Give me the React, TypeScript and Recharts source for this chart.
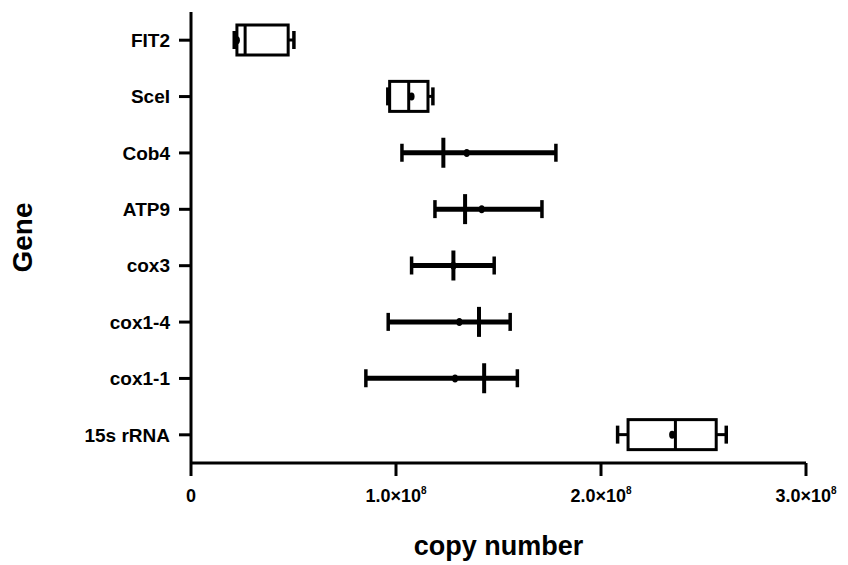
import React from 'react';
import { ComposedChart, Bar, Line, XAxis, YAxis } from 'recharts';

const genes = ['FIT2', 'SceI', 'Cob4', 'ATP9', 'cox3', 'cox1-4', 'cox1-1', '15s rRNA'];
// copy number, in units of 1e8
const mins = [0.211, 0.96, 1.029, 1.19, 1.076, 0.962, 0.853, 2.081];
const q1s = [0.224, 0.969, null, null, null, null, null, 2.132];
const medians = [0.264, 1.062, 1.231, 1.337, 1.28, 1.405, 1.43, 2.363];
const q3s = [0.474, 1.156, null, null, null, null, null, 2.562];
const maxs = [0.502, 1.18, 1.78, 1.712, 1.479, 1.557, 1.592, 2.611];
const means = [0.224, 1.076, 1.345, 1.418, 1.28, 1.309, 1.288, 2.347];
const xTicks = [0, 1, 2, 3];

const E8 = 1e8;
const data = genes.map((gene, i) => ({
  gene,
  min: mins[i] * E8,
  q1: q1s[i] == null ? null : (q1s[i] as number) * E8,
  median: medians[i] * E8,
  q3: q3s[i] == null ? null : (q3s[i] as number) * E8,
  max: maxs[i] * E8,
  mean: means[i] * E8,
}));

const FONT = '"Liberation Sans", Arial, sans-serif';

function BoxShape(props: any) {
  const { x, y, width, height, payload } = props;
  const { min, max, q1, q3, median } = payload;
  const sx = (v: number) => x + ((v - min) / (max - min)) * width;
  const cy = y + height / 2;
  const hasBox = q1 != null && q3 != null;
  const lineW = hasBox ? 3 : 5;
  return (
    <g stroke="#000" fill="none">
      {hasBox ? (
        <>
          <line x1={sx(min)} y1={cy} x2={sx(q1)} y2={cy} strokeWidth={lineW} />
          <line x1={sx(q3)} y1={cy} x2={sx(max)} y2={cy} strokeWidth={lineW} />
          <rect x={sx(q1)} y={y} width={sx(q3) - sx(q1)} height={height} strokeWidth={3} fill="#fff" />
        </>
      ) : (
        <line x1={sx(min)} y1={cy} x2={sx(max)} y2={cy} strokeWidth={lineW} />
      )}
      <line x1={sx(min)} y1={cy - 9} x2={sx(min)} y2={cy + 9} strokeWidth={3.5} />
      <line x1={sx(max)} y1={cy - 9} x2={sx(max)} y2={cy + 9} strokeWidth={3.5} />
      <line x1={sx(median)} y1={y} x2={sx(median)} y2={y + height} strokeWidth={hasBox ? 3 : 4} />
    </g>
  );
}

function MeanDot(props: any) {
  const { cx, cy, index } = props;
  if (cx == null || cy == null) return <g key={index} />;
  return <ellipse key={index} cx={cx} cy={cy} rx={3} ry={4} fill="#000" />;
}

function XTick(props: any) {
  const { x, y, payload } = props;
  const v = payload.value / E8;
  return (
    <text x={x} y={y + 24} textAnchor="middle" fontFamily={FONT} fontWeight="bold" fontSize={18} fill="#000">
      {v === 0 ? (
        '0'
      ) : (
        <>
          {v.toFixed(1)}×10
          <tspan fontSize={10} dy={-8}>8</tspan>
        </>
      )}
    </text>
  );
}

function GeneLabel(props: any) {
  const { viewBox } = props;
  const x = 22;
  const y = viewBox.y + viewBox.height / 2;
  return (
    <text
      x={x}
      y={y}
      transform={`rotate(-90, ${x}, ${y})`}
      textAnchor="middle"
      dominantBaseline="central"
      fontFamily={FONT}
      fontWeight="bold"
      fontSize={28}
      fill="#000"
    >
      Gene
    </text>
  );
}

export default function App() {
  return (
    <div style={{ position: 'absolute', left: 0, top: 0, background: '#fff' }}>
      <ComposedChart
        width={848}
        height={565}
        data={data}
        layout="vertical"
        margin={{ top: 12, right: 42, bottom: 0, left: 0 }}
      >
        <XAxis
          type="number"
          domain={[0, 3 * E8]}
          ticks={xTicks.map((t) => t * E8)}
          height={102}
          axisLine={{ stroke: '#000', strokeWidth: 3 }}
          tickLine={{ stroke: '#000', strokeWidth: 3 }}
          tickSize={13}
          tick={XTick}
          label={{
            value: 'copy number',
            position: 'insideBottom',
            offset: 10,
            style: { fontFamily: FONT, fontWeight: 'bold', fontSize: 27, fill: '#000' },
          }}
        />
        <YAxis
          type="category"
          dataKey="gene"
          width={191}
          axisLine={{ stroke: '#000', strokeWidth: 3 }}
          tickLine={{ stroke: '#000', strokeWidth: 3 }}
          tickSize={12}
          tickMargin={9}
          tick={{ fontFamily: FONT, fontWeight: 'bold', fontSize: 19, fill: '#000' }}
          label={<GeneLabel />}
        />
        <Bar
          dataKey={(d: any) => [d.min, d.max]}
          barSize={30}
          shape={BoxShape}
          isAnimationActive={false}
        />
        <Line
          dataKey="mean"
          stroke="none"
          dot={MeanDot}
          activeDot={false}
          isAnimationActive={false}
        />
      </ComposedChart>
    </div>
  );
}
